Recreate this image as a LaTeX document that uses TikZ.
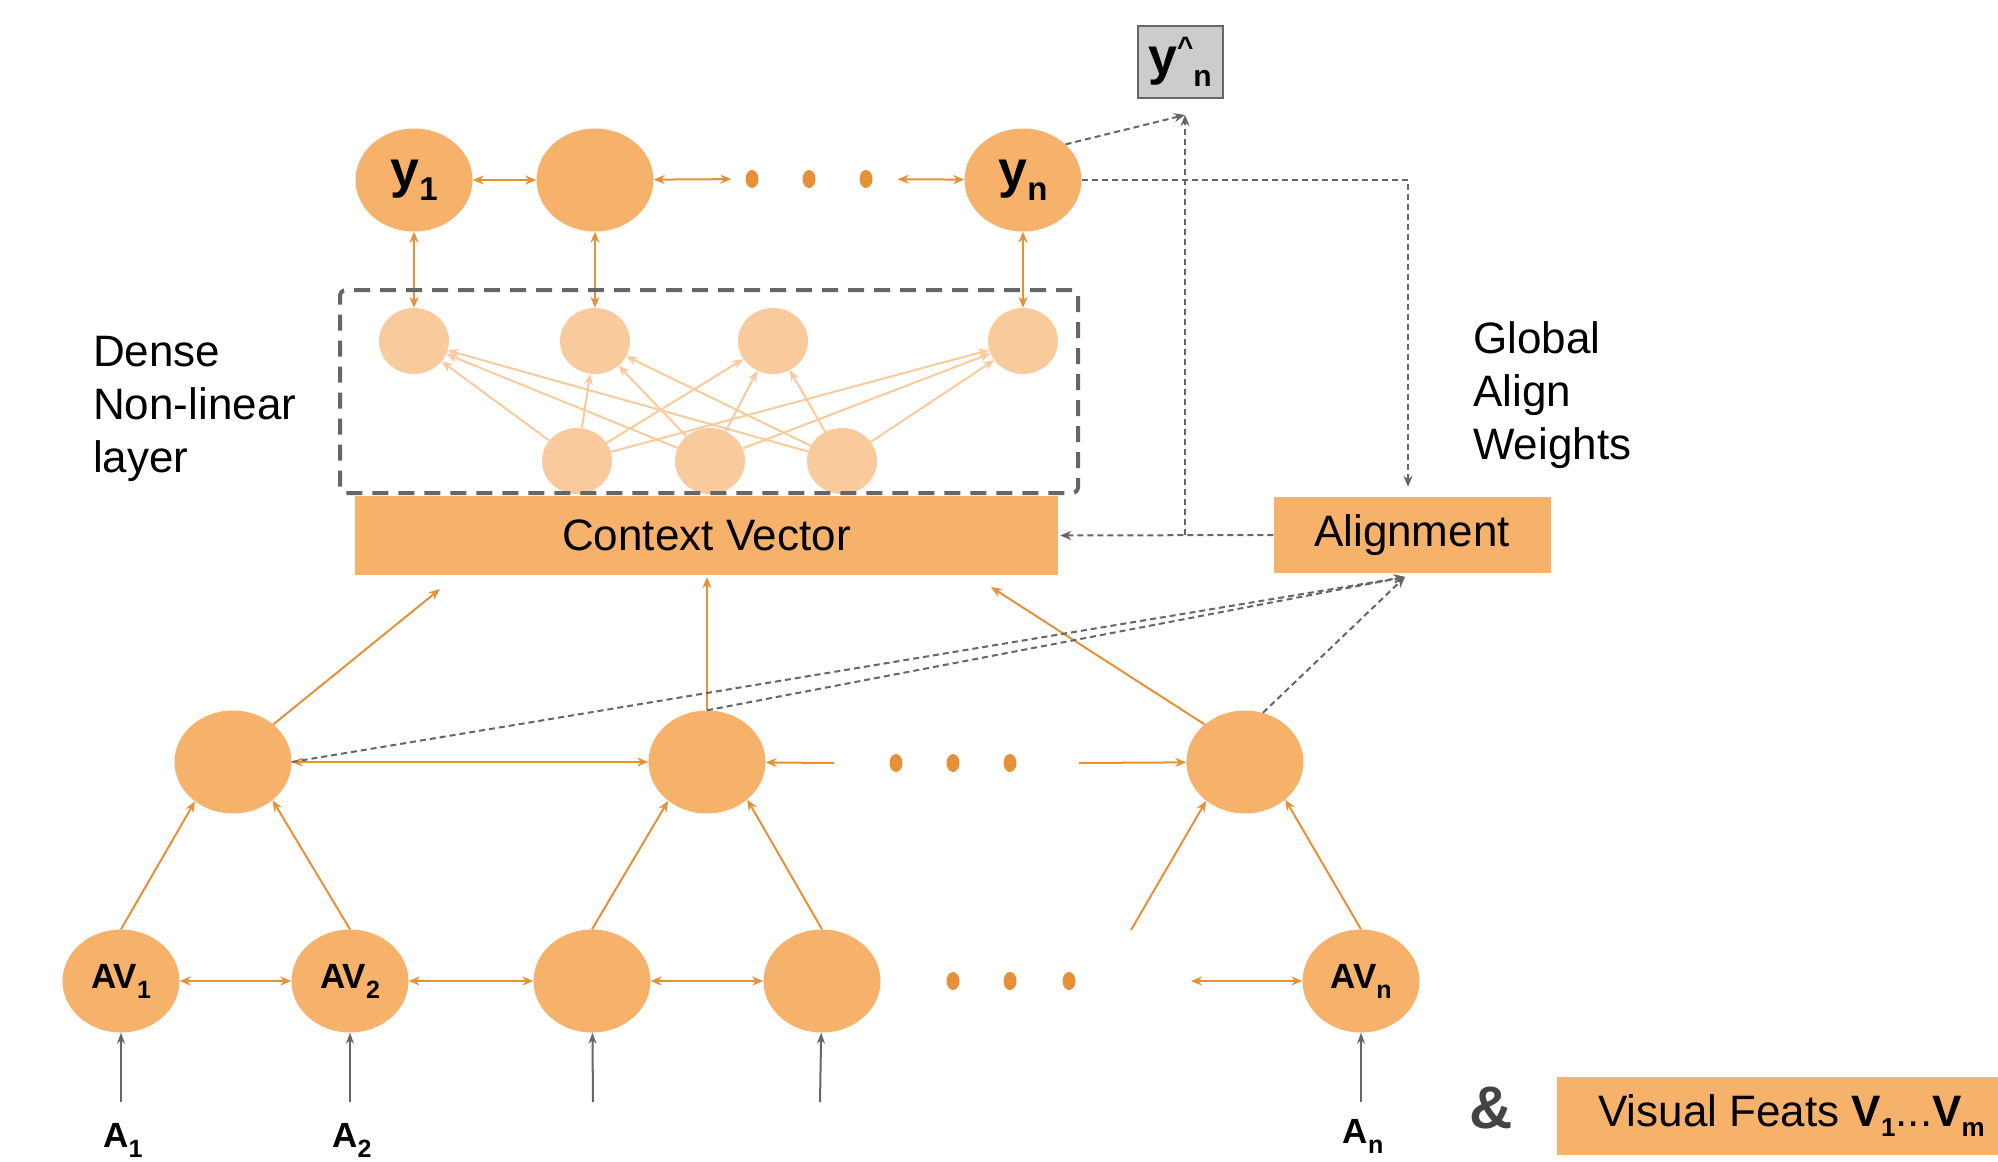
\documentclass[tikz,border=0pt]{standalone}
\usepackage{fontspec}
\setmainfont{Liberation Sans}
\usetikzlibrary{shapes.geometric,arrows.meta,calc}
\definecolor{ofill}{HTML}{F6B26B}
\definecolor{oline}{HTML}{E69138}
\definecolor{lfill}{HTML}{F9CB9C}
\definecolor{gline}{HTML}{666666}
\definecolor{gfill}{HTML}{CCCCCC}
\definecolor{amp}{HTML}{434343}
\newcommand\lsub[1]{\raisebox{-10pt}{\fontsize{25}{25}\selectfont\bfseries #1}}
\newcommand\ysub[1]{\raisebox{-13pt}{\fontsize{33}{33}\selectfont\bfseries #1}}
\newcommand\vsub[1]{\raisebox{-10pt}{\fontsize{26}{26}\selectfont\bfseries #1}}
\begin{document}
\begin{tikzpicture}[x=1pt,y=-1pt,
  big/.style={ellipse, fill=ofill, minimum width=117pt, minimum height=103pt, inner sep=0pt},
  smallc/.style={ellipse, fill=lfill, minimum width=70pt, minimum height=66pt, inner sep=0pt},
  dotn/.style={ellipse, fill=oline, minimum width=13pt, minimum height=18pt, inner sep=0pt},
  obox/.style={rectangle, fill=ofill, inner sep=0pt},
  oarr/.style={draw=oline, line width=2pt, -{Stealth[length=11pt,width=9pt]}},
  obi/.style={draw=oline, line width=2pt, {Stealth[length=11pt,width=9pt]}-{Stealth[length=11pt,width=9pt]}},
  larr/.style={draw=lfill, line width=2pt, -{Stealth[length=11pt,width=9pt]}},
  garr/.style={draw=gline, line width=2pt, -{Stealth[length=11pt,width=8pt]}},
  darr/.style={draw=gline, line width=2pt, dash pattern=on 6pt off 4pt, -{Stealth[length=11pt,width=9pt]}},
  txt/.style={font=\fontsize{44}{53}\selectfont, align=left, inner sep=0pt},
  lab/.style={font=\fontsize{35}{35}\selectfont\bfseries, inner sep=0pt},
  ylab/.style={font=\fontsize{52}{52}\selectfont\bfseries},
]
\useasboundingbox (0,0) rectangle (1998,1162);
\fill[white] (0,0) rectangle (1998,1162);

% ---------- top output row ----------
\node[big,ylab] (y1) at (414,180) {y\ysub{1}};
\node[big] (y2) at (595,180) {};
\node[big,ylab] (yn) at (1023,180) {y\ysub{n}};
\node[dotn] (td1) at (752,179) {};
\node[dotn] (td2) at (809,179) {};
\node[dotn] (td3) at (866,179) {};
\draw[obi] (y1) -- (y2);
\draw[obi, shorten >=14pt] (y2) -- (td1);
\draw[obi, shorten <=25pt] (td3) -- (yn);

% y hat
\node[draw=gline, line width=2pt, fill=gfill, minimum width=85pt, minimum height=72pt, inner sep=0pt] (yhat) at (1180,62)
  {\fontsize{52}{52}\selectfont\bfseries y\raisebox{18pt}{\fontsize{28}{28}\selectfont\bfseries\textasciicircum}\raisebox{-12pt}{\fontsize{30}{30}\selectfont\bfseries n}};
\coordinate (yhin) at (1185,115);
\draw[darr] (yn.40) -- (yhin);

% ---------- dense layer ----------
\node[smallc] (u1) at (414,341) {};
\node[smallc] (u2) at (595,341) {};
\node[smallc] (u3) at (773,341) {};
\node[smallc] (u4) at (1023,341) {};
\node[smallc] (l1) at (577,461) {};
\node[smallc] (l2) at (710,461) {};
\node[smallc] (l3) at (842,461) {};
\foreach \l in {l1,l2,l3}
  \foreach \u in {u1,u2,u3,u4}
    \draw[larr] (\l) -- (\u);
\draw[obi] (y1) -- (u1);
\draw[obi] (y2) -- (u2);
\draw[obi] (yn) -- (u4);
\node[draw=gline, line width=4pt, dash pattern=on 16pt off 10pt, rounded corners=6pt,
      minimum width=738pt, minimum height=203pt, inner sep=0pt] (dense) at (709,391.5) {};

\node[txt, anchor=base west] (dlab) at (93,472) {Dense\\Non-linear\\layer};
\node[txt, anchor=base west] (glab) at (1473,459) {Global\\Align\\Weights};

% ---------- context vector & alignment ----------
\node[obox, minimum width=703pt, minimum height=79pt, font=\fontsize{44}{53}\selectfont] (cv) at (706.5,535.5) {Context Vector};
\node[obox, minimum width=277pt, minimum height=76pt, font=\fontsize{44}{53}\selectfont] (align) at (1412,535) {Alignment};

\coordinate (jn) at (1185,535);
\draw[darr, shorten >=2pt] (align.west) -- (cv.east);
\draw[darr] (jn) -- (yhin);
\coordinate (corner) at (1408,180);
\draw[darr, shorten >=10pt] (yn.east) -- (corner) -- (corner |- align.north);

% ---------- middle row ----------
\node[big] (m1) at (233,762) {};
\node[big] (m2) at (707,762) {};
\node[big] (m3) at (1245,762) {};
\node[dotn] (md1) at (896,763) {};
\node[dotn] (md2) at (953,763) {};
\node[dotn] (md3) at (1010,763) {};
\coordinate (mL) at (834,763);
\coordinate (mR) at (1079,763);
\draw[obi] (m1) -- (m2);
\draw[oarr] (mL) -- (m2);
\draw[oarr] (mR) -- (m3);

\coordinate (cvA) at (440,589);
\coordinate (cvC) at (991,587);
\draw[oarr] (m1.43) -- (cvA);
\draw[oarr, shorten >=2pt] (m2.north) -- (m2.north |- cv.south);
\draw[oarr] (m3.137) -- (cvC);

\coordinate (alB) at (1405,577);
\draw[darr] (m1.east) -- (alB);
\draw[darr] (m2.north) -- (alB);
\draw[darr] (m3.70) -- (alB);

% ---------- bottom row ----------
\node[big,lab] (av1) at (121,981) {AV\lsub{1}};
\node[big,lab] (av2) at (350,981) {AV\lsub{2}};
\node[big] (b3) at (592,981) {};
\node[big] (b4) at (822,981) {};
\node[big,lab] (avn) at (1361,981) {AV\lsub{n}};
\node[dotn] (bd1) at (953,981) {};
\node[dotn] (bd2) at (1010,981) {};
\node[dotn] (bd3) at (1069,981) {};
\coordinate (bL) at (1191,981);
\draw[obi] (av1) -- (av2);
\draw[obi] (av2) -- (b3);
\draw[obi] (b3) -- (b4);
\draw[obi] (bL) -- (avn);

\coordinate (fr) at (1131,930);
\draw[oarr] (av1.north) -- (m1.226);
\draw[oarr] (av2.north) -- (m1.316);
\draw[oarr] (b3.north) -- (m2.225);
\draw[oarr] (b4.north) -- (m2.317);
\draw[oarr] (fr) -- (m3.225);
\draw[oarr] (avn.north) -- (m3.317);

% inputs
\node[lab, anchor=base] (a1) at (123,1147) {A\lsub{1}};
\node[lab, anchor=base] (a2) at (352,1147) {A\lsub{2}};
\node[lab, anchor=base] (an) at (1363,1143) {A\lsub{n}};
\coordinate (i1) at (121,1102);
\coordinate (i2) at (350,1102);
\coordinate (i3) at (593,1102);
\coordinate (i4) at (820,1102);
\coordinate (i5) at (1361,1102);
\draw[garr] (i1) -- (av1);
\draw[garr] (i2) -- (av2);
\draw[garr] (i3) -- (b3);
\draw[garr] (i4) -- (b4);
\draw[garr] (i5) -- (avn);

% visual features
\node[font=\fontsize{60}{60}\selectfont\bfseries, text=amp, inner sep=0pt] (amp) at (1491,1108) {\&};
\node[obox, anchor=west, minimum height=78pt, inner xsep=41pt, font=\fontsize{44}{53}\selectfont] (vis) at (1557,1116)
  {Visual Feats \textbf{V}\vsub{1}...\textbf{V}\vsub{m}};
\end{tikzpicture}
\end{document}
